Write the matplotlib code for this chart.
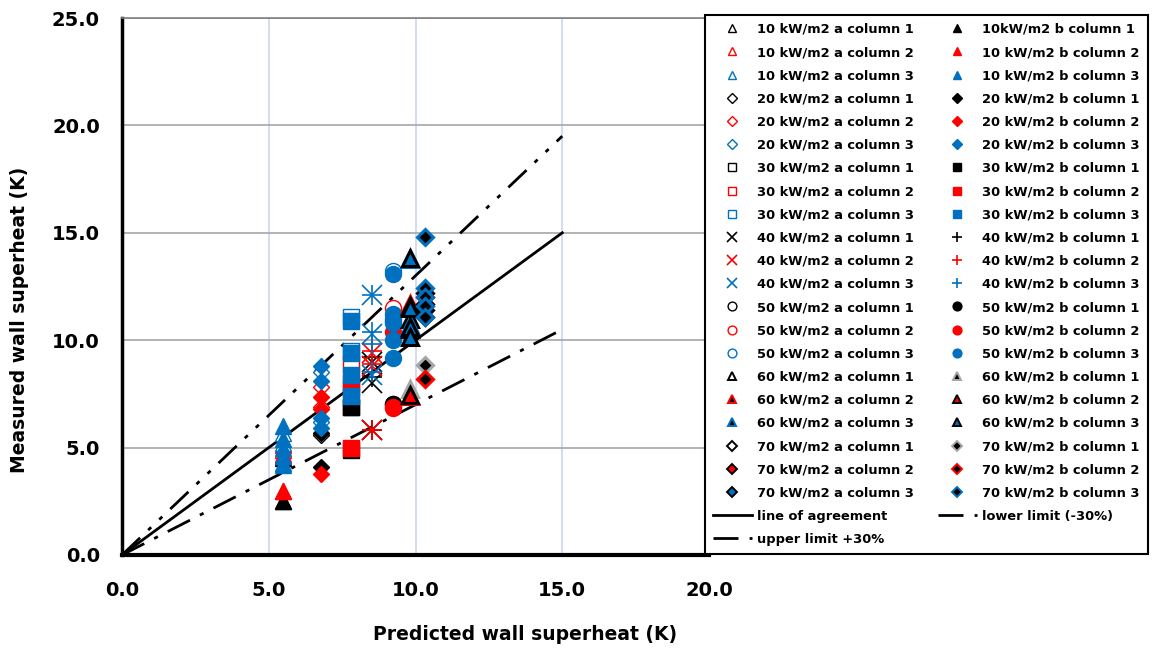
import matplotlib
matplotlib.use("Agg")
import matplotlib.pyplot as plt

# Heat flux levels and predicted wall superheat (K) for each level
flux_levels = ["10", "20", "30", "40", "50", "60", "70"]
predicted = [5.49, 6.78, 7.80, 8.52, 9.25, 9.81, 10.32]

# Measured wall superheat (K), per heat flux, per column, for data set "a"
measured_a = [
    [[2.5, 4.6], [3.0, 4.9], [4.3, 5.2, 5.7]],
    [[5.6], [6.9, 7.8], [6.2, 8.5]],
    [[6.9], [8.9, 8.0], [11.1, 9.5]],
    [[5.8, 8.0, 9.0], [5.8, 8.8, 9.4], [12.1, 10.3, 8.4]],
    [[7.05], [6.9, 11.5], [13.2, 11.0]],
    [[11.0, 10.5], [7.4, 11.7], [13.8, 10.7]],
    [[11.1], [12.2, 11.7], [11.4]],
]

# Measured wall superheat (K), per heat flux, per column, for data set "b"
measured_b = [
    [[2.5, 4.5], [3.0, 4.7, 5.1], [4.2, 4.6, 5.0, 5.4, 6.0]],
    [[4.1, 5.7], [3.75, 7.35, 6.8], [5.9, 6.4, 8.1, 8.8]],
    [[4.9, 6.9], [5.0, 7.75], [10.9, 9.4, 8.4, 7.4]],
    [[5.8, 8.3, 9.2], [5.8, 8.9, 9.5], [12.1, 10.4, 9.8, 8.5]],
    [[7.05], [6.85, 10.4, 10.9], [13.1, 11.2, 10.8, 10.0, 9.15]],
    [[7.75], [7.45, 11.6], [13.85, 11.5, 10.6, 10.15]],
    [[8.85], [8.2, 12.0], [14.8, 12.45, 12.0, 11.6, 11.1]],
]

# Reference lines: agreement and +/-30 % bounds
line_x = [0.0, 15.0]
agreement_y = [0.0, 15.0]
upper_y = [0.0, 19.5]
lower_y = [0.0, 10.5]

BLACK, RED, BLUE, GRAY = "#000000", "#FF0000", "#0070C0", "#A6A6A6"
col_colors = [BLACK, RED, BLUE]

plt.rcParams["font.family"] = ["DejaVu Sans"]
plt.rcParams["font.weight"] = "bold"

fig = plt.figure(figsize=(11.52, 6.52), dpi=100)
ax = fig.add_axes([122 / 1152, 1 - 555 / 652, (709 - 122) / 1152, (555 - 18) / 652])


def style(flux_idx, ds, col):
    """Marker style for a series: (marker, face, edge, edge width, size)."""
    c = col_colors[col]
    base = {0: "^", 1: "D", 2: "s", 4: "o"}
    if flux_idx in base:
        m = base[flux_idx]
        ms = {"^": 11.5, "D": 8.5, "s": 11, "o": 11.5}[m]
        if ds == "a":
            return m, "white", c, 1.0, ms
        return m, c, c, 1.0, ms
    if flux_idx == 3:
        return ("x" if ds == "a" else "+"), c, c, 1.2, 14
    m = "^" if flux_idx == 5 else "D"
    ms = 11 if m == "^" else 8.5
    if ds == "a":
        if col == 0:
            return m, "white", BLACK, 2.2, ms
        if flux_idx == 5:
            return m, BLACK, c, 2.2, ms
        return m, c, BLACK, 2.2, ms
    if col == 0:
        return m, BLACK, GRAY, 2.2, ms
    if flux_idx == 5:
        return m, c, BLACK, 2.2, ms
    return m, BLACK, c, 2.2, ms


handles_a, labels_a, handles_b, labels_b = [], [], [], []
z = 3
for i, flux in enumerate(flux_levels):
    for col in range(3):
        for ds, data in (("a", measured_a), ("b", measured_b)):
            ys = data[i][col]
            m, fc, ec, mew, ms = style(i, ds, col)
            h, = ax.plot([predicted[i]] * len(ys), ys, linestyle="none", marker=m,
                         markerfacecolor=fc, markeredgecolor=ec, markeredgewidth=mew,
                         markersize=ms, zorder=z, clip_on=False)
            z += 0.01
            if ds == "a":
                handles_a.append(h)
                labels_a.append(f"{flux} kW/m2 a column {col + 1}")
            else:
                label = ("10kW/m2 b column 1" if (i == 0 and col == 0)
                         else f"{flux} kW/m2 b column {col + 1}")
                handles_b.append(h)
                labels_b.append(label)

h_agree, = ax.plot(line_x, agreement_y, color=BLACK, lw=2, zorder=2)
h_lower, = ax.plot(line_x, lower_y, color=BLACK, lw=2, zorder=2,
                   linestyle=(0, (9, 4, 1.5, 4)))
h_upper, = ax.plot(line_x, upper_y, color=BLACK, lw=2, zorder=2,
                   linestyle=(0, (9, 4, 1.5, 4, 1.5, 4)))

ax.set_xlim(0, 20)
ax.set_ylim(0, 25)
ax.set_xticks([0, 5, 10, 15, 20])
ax.set_yticks([0, 5, 10, 15, 20, 25])
ax.set_xticklabels(["0.0", "5.0", "10.0", "15.0", "20.0"])
ax.set_yticklabels(["0.0", "5.0", "10.0", "15.0", "20.0", "25.0"])
ax.tick_params(axis="both", length=0, labelsize=14)
ax.tick_params(axis="x", pad=19)
ax.tick_params(axis="y", pad=16)
for lab in ax.get_xticklabels() + ax.get_yticklabels():
    lab.set_fontweight("bold")

ax.set_axisbelow(True)
ax.xaxis.grid(True, color="#C9D7F0", lw=1.2)
ax.yaxis.grid(True, color="#A6A6A6", lw=1.2)

ax.spines["left"].set_linewidth(2.5)
ax.spines["left"].set_color(BLACK)
ax.spines["bottom"].set_linewidth(3)
ax.spines["bottom"].set_color(BLACK)
ax.spines["top"].set_linewidth(1.2)
ax.spines["top"].set_color("#808080")
ax.spines["right"].set_visible(False)

fig.text(525 / 1152, 1 - 635 / 652, "Predicted wall superheat (K)", ha="center",
         va="center", fontsize=13.5, fontweight="bold")
fig.text(20 / 1152, 1 - 320 / 652, "Measured wall superheat (K)", ha="center",
         va="center", rotation=90, fontsize=13.5, fontweight="bold")

handles = handles_a + [h_agree, h_upper] + handles_b + [h_lower]
labels = labels_a + ["line of agreement", "upper limit +30%"] + labels_b + ["lower limit (-30%)"]
leg = fig.legend(handles, labels, ncol=2, loc="upper left",
                 bbox_to_anchor=(705 / 1152, 1 - 15 / 652), borderaxespad=0,
                 fontsize=9.4, markerscale=0.55, handlelength=3, handletextpad=0.4,
                 columnspacing=1.8, labelspacing=0.78, borderpad=0.6,
                 fancybox=False, framealpha=1, edgecolor=BLACK)
leg.get_frame().set_linewidth(1.5)
for t in leg.get_texts():
    t.set_fontweight("bold")
# thinner marker outlines in the legend keys so the fill colour stays visible
for lh in leg.legend_handles:
    if lh.get_markeredgewidth() > 2:
        lh.set_markeredgewidth(1.4)

fig.savefig("out.png", dpi=100)
